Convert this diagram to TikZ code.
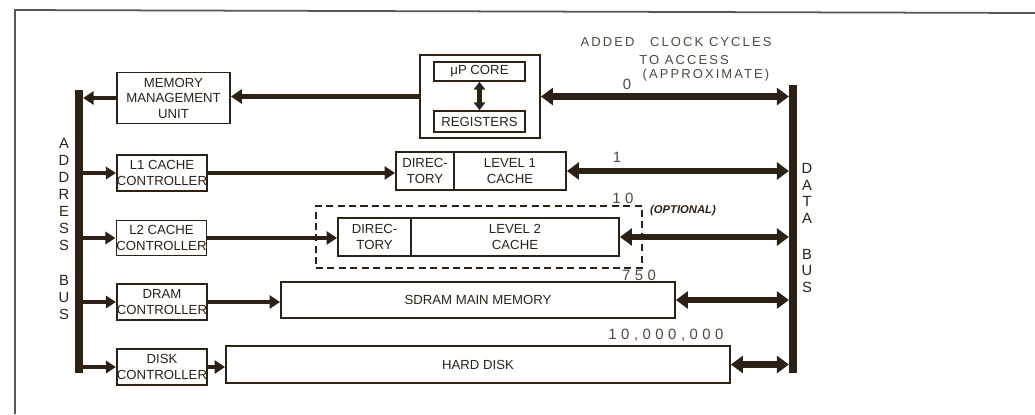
\documentclass[tikz,border=0pt]{standalone}
\usepackage{fontspec}
\setmainfont{Liberation Sans}
\newfontfamily\handA[LetterSpace=16]{Liberation Sans}
\newfontfamily\handB[LetterSpace=30]{Liberation Sans}
\usetikzlibrary{arrows.meta}
\definecolor{ink}{RGB}{45,33,22}
\definecolor{pencil}{RGB}{80,72,64}
\definecolor{frame}{RGB}{90,85,80}
\begin{document}
\begin{tikzpicture}[x=0.02cm,y=-0.02cm,
  box/.style={draw=ink, line width=1.1pt, rectangle, inner sep=0pt, align=center,
    font=\fontsize{7.5}{8.8}\selectfont, text=ink},
  inbox/.style={box, line width=0.95pt},
  dashbox/.style={draw=ink, line width=0.8pt, dash pattern=on 4pt off 2.5pt, inner sep=0pt},
  bus/.style={fill=ink, draw=none, inner sep=0pt, minimum width=0.15cm},
  buslabel/.style={text=ink, align=center, inner sep=0pt, font=\fontsize{8.4}{9.6}\selectfont},
  arrA/.style={draw=ink, line width=2.3pt, -{Triangle[length=5.8pt,width=7pt]}},
  arrB/.style={draw=ink, line width=2.8pt, -{Triangle[length=6pt,width=7.5pt]}},
  arrM/.style={draw=ink, line width=3.3pt, -{Triangle[length=6.2pt,width=8pt]}},
  dataarr/.style={draw=ink, line width=3.8pt, {Triangle[length=6.8pt,width=9.6pt]}-{Triangle[length=6.8pt,width=9.6pt]}},
  hand/.style={text=pencil, inner sep=0pt, font=\handA\fontsize{7.4}{8}\selectfont},
  handnum/.style={text=pencil, inner sep=0pt, font=\handB\fontsize{8.5}{9}\selectfont},
  opt/.style={text=ink, inner sep=0pt, font=\bfseries\itshape\fontsize{6.4}{7}\selectfont}
]
\useasboundingbox (0,0) rectangle (1035,414);
% outer frame
\draw[frame, line width=1pt] (1035,13) -- (15,10) -- (15,414);

% buses
\node[bus, minimum height=5.66cm] (abus) at (79,231.5) {};
\node[bus, minimum height=5.76cm] (dbus) at (793,229) {};
\node[buslabel] (alab) at (64,229) {A\\D\\D\\R\\E\\S\\S\\[10.5pt]B\\U\\S};
\node[buslabel] (dlab) at (807,228) {D\\A\\T\\A\\[10.5pt]B\\U\\S};

% row 1: MMU and CPU
\node[box, minimum width=2.26cm, minimum height=1.02cm] (mmu) at (173.5,98)
  {MEMORY\\MANAGEMENT\\UNIT};
\node[box, minimum width=2.4cm, minimum height=1.66cm] (cpu) at (480,96.5) {};
\node[inbox, minimum width=1.82cm, minimum height=0.38cm] (core) at (479.5,71.5) {μP CORE};
\node[inbox, minimum width=1.82cm, minimum height=0.42cm] (regs) at (479.5,121.5) {REGISTERS};
\draw[draw=ink, line width=2.3pt, {Triangle[length=4.5pt,width=6.5pt]}-{Triangle[length=4.5pt,width=6.5pt]}]
  (core.south) -- (regs.north);
\draw[arrM] (cpu.west) -- (mmu.east |- cpu.west);
\draw[arrB] (mmu.west) -- (abus.east |- mmu.west);
\draw[dataarr] (cpu.east) -- (dbus.west |- cpu.east);

% row 2: L1
\node[box, minimum width=1.8cm, minimum height=0.72cm] (l1c) at (162,173) {L1 CACHE\\CONTROLLER};
\node[box, minimum width=1.16cm, minimum height=0.76cm] (l1d) at (425,171) {DIREC-\\TORY};
\node[box, minimum width=2.24cm, minimum height=0.76cm] (l1m) at (510,171) {LEVEL 1\\CACHE};
\draw[arrA] (abus.east |- l1c.west) -- (l1c.west);
\draw[arrB] (l1c.east) -- (l1d.west |- l1c.east);
\draw[dataarr] (l1m.east) -- (dbus.west |- l1m.east);

% row 3: L2
\node[dashbox, minimum width=6.52cm, minimum height=1.24cm] (opt) at (479,237) {};
\node[box, minimum width=1.78cm, minimum height=0.7cm] (l2c) at (161.5,238) {L2 CACHE\\CONTROLLER};
\node[box, minimum width=1.46cm, minimum height=0.76cm] (l2d) at (374.5,237) {DIREC-\\TORY};
\node[box, minimum width=4.16cm, minimum height=0.76cm] (l2m) at (515,237) {LEVEL 2\\CACHE};
\draw[arrA] (abus.east |- l2c.west) -- (l2c.west);
\draw[arrB] (l2c.east) -- (l2d.west |- l2c.east);
\draw[dataarr] (l2m.east) -- (dbus.west |- l2m.east);

% row 4: DRAM
\node[box, minimum width=1.8cm, minimum height=0.72cm] (dramc) at (162,302) {DRAM\\CONTROLLER};
\node[box, minimum width=7.88cm, minimum height=0.72cm] (sdram) at (478,300) {SDRAM MAIN MEMORY};
\draw[arrA] (abus.east |- dramc.west) -- (dramc.west);
\draw[arrB] (dramc.east) -- (sdram.west |- dramc.east);
\draw[dataarr] (sdram.east) -- (dbus.west |- sdram.east);

% row 5: disk
\node[box, minimum width=1.8cm, minimum height=0.72cm] (diskc) at (162,367) {DISK\\CONTROLLER};
\node[box, minimum width=10.08cm, minimum height=0.74cm] (hd) at (478,364.5) {HARD DISK};
\draw[arrA] (abus.east |- diskc.west) -- (diskc.west);
\draw[arrB] (diskc.east) -- (hd.west |- diskc.east);
\draw[dataarr] (hd.east) -- (dbus.west |- hd.east);

% annotations
\node[hand] (ann1) at (676,42) {ADDED\hspace{9pt}CLOCK CYCLES};
\node[hand] (ann2) at (684,60) {TO ACCESS};
\node[hand] (ann3) at (706,75) {(APPROXIMATE)};
\node[handnum] (n0) at (627,84) {0};
\node[handnum] (n1) at (617,157) {1};
\node[handnum] (n10) at (623,198) {10};
\node[opt] (optl) at (683,211) {(OPTIONAL)};
\node[handnum] (n750) at (639,275) {750};
\node[handnum] (nhd) at (666,335) {10,000,000};
\end{tikzpicture}
\end{document}
